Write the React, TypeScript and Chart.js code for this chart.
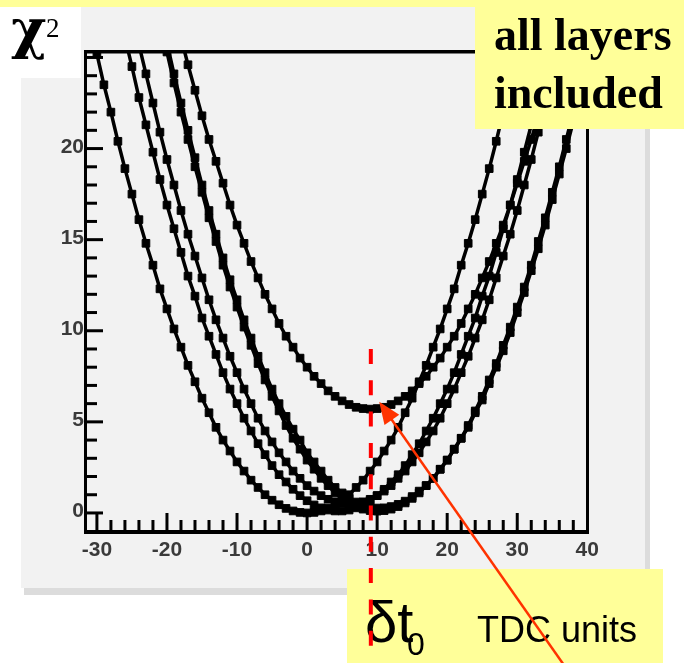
import React, { useEffect, useRef } from "react";
import { Chart, registerables } from "chart.js";

Chart.register(...registerables);

// Trial shift of t0, in TDC units
const tdcShift = [
  -32, -31, -30, -29, -28, -27, -26, -25, -24, -23,
  -22, -21, -20, -19, -18, -17, -16, -15, -14, -13,
  -12, -11, -10, -9, -8, -7, -6, -5, -4, -3,
  -2, -1, 0, 1, 2, 3, 4, 5, 6, 7,
  8, 9, 10, 11, 12, 13, 14, 15, 16, 17,
  18, 19, 20, 21, 22, 23, 24, 25, 26, 27,
  28, 29, 30, 31, 32, 33, 34, 35, 36, 37,
  38, 39, 40,
];

// chi-square of the track fit for each trial shift (one array per event)
const chi2EventA = [
  28.7, 26.9, 25.2, 23.5, 22.0, 20.4, 18.9, 17.5, 16.1, 14.8,
  13.6, 12.3, 11.2, 10.1, 9.1, 8.1, 7.2, 6.3, 5.5, 4.7,
  4.0, 3.4, 2.8, 2.3, 1.8, 1.4, 1.0, 0.7, 0.45, 0.25,
  0.11, 0.03, 0, 0.03, 0.11, 0.25, 0.45, 0.7, 1.0, 1.4,
  1.8, 2.3, 2.8, 3.4, 4.0, 4.7, 5.5, 6.3, 7.2, 8.1,
  9.1, 10.1, 11.2, 12.3, 13.6, 14.8, 16.1, 17.5, 18.9, 20.4,
  22.0, 23.5, 25.2, 26.9, 28.7, null, null, null, null, null,
  null, null, null,
];

const chi2EventB = [
  null, null, null, null, 29.7, 27.9, 26.1, 24.5, 22.8, 21.3,
  19.8, 18.3, 16.9, 15.6, 14.3, 13.0, 11.9, 10.7, 9.7, 8.7,
  7.7, 6.8, 6.0, 5.2, 4.5, 3.8, 3.2, 2.6, 2.1, 1.7,
  1.3, 0.95, 0.67, 0.44, 0.28, 0.16, 0.11, 0.11, 0.16, 0.28,
  0.44, 0.67, 0.95, 1.3, 1.7, 2.1, 2.6, 3.2, 3.8, 4.5,
  5.2, 6.0, 6.8, 7.7, 8.7, 9.7, 10.7, 11.9, 13.0, 14.3,
  15.6, 16.9, 18.3, 19.8, 21.3, 22.8, 24.5, 26.1, 27.9, 29.7,
  null, null, null,
];

const chi2EventC = [
  null, null, null, null, null, null, 29.2, 27.4, 25.7, 24.1,
  22.5, 20.9, 19.4, 18.0, 16.6, 15.3, 14.1, 12.9, 11.7, 10.6,
  9.6, 8.6, 7.7, 6.8, 6.0, 5.2, 4.5, 3.9, 3.3, 2.8,
  2.3, 1.9, 1.5, 1.2, 0.95, 0.75, 0.61, 0.53, 0.5, 0.53,
  0.61, 0.75, 0.95, 1.2, 1.5, 1.9, 2.3, 2.8, 3.3, 3.9,
  4.5, 5.2, 6.0, 6.8, 7.7, 8.6, 9.6, 10.6, 11.7, 12.9,
  14.1, 15.3, 16.6, 18.0, 19.4, 20.9, 22.5, 24.1, 25.7, 27.4,
  29.2, null, null,
];

const chi2EventD = [
  null, null, null, null, null, null, null, null, null, null,
  28.8, 27.0, 25.3, 23.6, 22.0, 20.5, 19.0, 17.6, 16.2, 14.9,
  13.6, 12.4, 11.3, 10.2, 9.2, 8.2, 7.3, 6.4, 5.6, 4.8,
  4.1, 3.5, 2.9, 2.4, 1.9, 1.5, 1.1, 0.8, 0.55, 0.35,
  0.21, 0.13, 0.1, 0.13, 0.21, 0.35, 0.55, 0.8, 1.1, 1.5,
  1.9, 2.4, 2.9, 3.5, 4.1, 4.8, 5.6, 6.4, 7.3, 8.2,
  9.2, 10.2, 11.3, 12.4, 13.6, 14.9, 16.2, 17.6, 19.0, 20.5,
  22.0, 23.6, 25.3,
];

const chi2EventE = [
  null, null, null, null, null, null, null, null, null, null,
  29.3, 27.5, 25.8, 24.1, 22.5, 21.0, 19.5, 18.0, 16.6, 15.3,
  14.0, 12.8, 11.7, 10.6, 9.6, 8.6, 7.7, 6.8, 6.0, 5.3,
  4.6, 4.0, 3.3, 2.8, 2.3, 1.8, 1.4, 1.1, 0.8, 0.6,
  0.43, 0.32, 0.27, 0.28, 0.35, 0.47, 0.65, 0.9, 1.2, 1.5,
  1.9, 2.4, 2.9, 3.5, 4.1, 4.7, 5.5, 6.2, 7.1, 8.0,
  8.9, 9.9, 11.0, 12.1, 13.3, 14.5, 15.8, 17.2, 18.6, 20.0,
  21.5, 23.1, 24.7,
];

const chi2EventF = [
  null, null, null, null, null, null, null, null, null, null,
  null, null, 29.3, 27.7, 26.1, 24.6, 23.2, 21.8, 20.5, 19.3,
  18.1, 16.9, 15.8, 14.8, 13.8, 12.9, 12.0, 11.2, 10.4, 9.7,
  9.1, 8.5, 8.0, 7.5, 7.1, 6.7, 6.4, 6.15, 5.95, 5.8,
  5.73, 5.7, 5.73, 5.8, 5.95, 6.15, 6.4, 6.7, 7.1, 7.5,
  8.0, 8.5, 9.1, 9.7, 10.4, 11.2, 12.0, 12.9, 13.8, 14.8,
  15.8, 16.9, 18.1, 19.3, 20.5, 21.8, 23.2, 24.6, 26.1, 27.7,
  29.3, null, null,
];

const eventSeries = [chi2EventA, chi2EventB, chi2EventC, chi2EventD, chi2EventE, chi2EventF];

const xTickValues = [-30, -20, -10, 0, 10, 20, 30, 40];
const yTickValues = [0, 5, 10, 15, 20];

// fitted t0 shift (red marker) and the minimum the arrow points to
const bestShift = 9.1;
const arrowTarget = { x: 10.3, y: 6.1 };

const YELLOW = "#ffff99";

const decorations = {
  id: "decorations",
  beforeDraw(chart: any) {
    const ctx = chart.ctx as CanvasRenderingContext2D;
    ctx.save();
    ctx.fillStyle = "#ffffff";
    ctx.fillRect(0, 0, chart.width, chart.height);
    // frame shadow
    ctx.fillStyle = "#dcdcdc";
    ctx.fillRect(24, 588, 626, 7);
    ctx.fillRect(645, 12, 5, 583);
    // canvas pad
    ctx.fillStyle = "#f2f2f2";
    ctx.fillRect(21, 7, 624, 581);
    // label cell for the y title
    ctx.fillStyle = "#ffffff";
    ctx.fillRect(0, 7, 81, 71);
    ctx.fillStyle = YELLOW;
    ctx.fillRect(0, 0, chart.width, 7);
    ctx.restore();
  },
  afterDatasetsDraw(chart: any) {
    const ctx = chart.ctx as CanvasRenderingContext2D;
    const xs = chart.scales.x;
    const ys = chart.scales.y;
    const { left, right, top, bottom } = chart.chartArea;
    ctx.save();
    ctx.fillStyle = "#000";
    // axis frame
    ctx.fillRect(left - 1, top - 2, right - left + 2, 3.5);
    ctx.fillRect(left - 1, bottom - 3, right - left + 2, 4);
    ctx.fillRect(left - 1, top - 2, 3, bottom - top + 3);
    ctx.fillRect(right - 2, top - 2, 3, bottom - top + 3);

    // y ticks, inward
    ctx.strokeStyle = "#000";
    ctx.lineWidth = 3;
    for (let v = 0; v <= 25; v++) {
      const y = ys.getPixelForValue(v);
      const len = v % 5 === 0 ? 18 : 12;
      ctx.beginPath();
      ctx.moveTo(left, y);
      ctx.lineTo(left + len, y);
      ctx.stroke();
    }
    // x ticks, inward
    for (let v = -30; v < 40; v += 2) {
      const x = xs.getPixelForValue(v);
      const len = v % 10 === 0 ? 18 : 11;
      ctx.beginPath();
      ctx.moveTo(x, bottom - 2);
      ctx.lineTo(x, bottom - 2 - len);
      ctx.stroke();
    }

    // tick labels
    ctx.fillStyle = "#3a3a3a";
    ctx.font = "bold 21px 'Liberation Sans', Arial, sans-serif";
    ctx.textAlign = "center";
    ctx.textBaseline = "alphabetic";
    for (const v of xTickValues) {
      ctx.fillText(String(v), xs.getPixelForValue(v), 556);
    }
    ctx.textAlign = "right";
    for (const v of yTickValues) {
      ctx.fillText(String(v), left - 1, ys.getPixelForValue(v) + 4);
    }
    ctx.restore();
  },
  afterDraw(chart: any) {
    const ctx = chart.ctx as CanvasRenderingContext2D;
    const xs = chart.scales.x;
    const ys = chart.scales.y;
    ctx.save();

    // y title
    ctx.fillStyle = "#000";
    ctx.textAlign = "left";
    ctx.textBaseline = "alphabetic";
    ctx.font = "bold 54px 'DejaVu Serif', serif";
    ctx.fillText("\u03c7", 11, 48);
    ctx.font = "27px 'Liberation Serif', 'Times New Roman', serif";
    ctx.fillText("2", 46, 37);

    // note box, top right
    ctx.fillStyle = YELLOW;
    ctx.fillRect(475, 0, 209, 129);
    ctx.fillStyle = "#000";
    ctx.font = "bold 46px 'Liberation Serif', 'Times New Roman', serif";
    ctx.fillText("all layers", 494, 50);
    ctx.fillText("included", 494, 108);

    // x title box
    ctx.fillStyle = YELLOW;
    ctx.fillRect(347, 569, 316, 94);
    ctx.fillStyle = "#000";
    ctx.font = "58px 'Liberation Sans', Arial, sans-serif";
    ctx.fillText("\u03b4t", 365, 642);
    ctx.font = "32px 'Liberation Sans', Arial, sans-serif";
    ctx.fillText("0", 407, 655);
    ctx.font = "36px 'Liberation Sans', Arial, sans-serif";
    ctx.fillText("TDC units", 477, 642);

    // dashed marker at the fitted shift
    const xm = xs.getPixelForValue(bestShift);
    ctx.strokeStyle = "#ff0000";
    ctx.lineWidth = 4;
    ctx.setLineDash([15, 16.3]);
    ctx.beginPath();
    ctx.moveTo(xm, ys.getPixelForValue(9));
    ctx.lineTo(xm, 648);
    ctx.stroke();
    ctx.setLineDash([]);

    // arrow to the minimum
    const tx = xs.getPixelForValue(arrowTarget.x);
    const ty = ys.getPixelForValue(arrowTarget.y);
    const ex = 566;
    const ey = 668;
    const len = Math.hypot(ex - tx, ey - ty);
    const ux = (ex - tx) / len;
    const uy = (ey - ty) / len;
    const headLen = 22;
    const headHalf = 9;
    const bx = tx + ux * headLen;
    const by = ty + uy * headLen;
    ctx.strokeStyle = "#ff3300";
    ctx.fillStyle = "#ff3300";
    ctx.lineWidth = 2.5;
    ctx.beginPath();
    ctx.moveTo(bx - ux * 2, by - uy * 2);
    ctx.lineTo(ex, ey);
    ctx.stroke();
    ctx.beginPath();
    ctx.moveTo(tx, ty);
    ctx.lineTo(bx - uy * headHalf, by + ux * headHalf);
    ctx.lineTo(bx + uy * headHalf, by - ux * headHalf);
    ctx.closePath();
    ctx.fill();

    ctx.restore();
  },
};

export default function App() {
  const canvasRef = useRef<HTMLCanvasElement>(null);

  useEffect(() => {
    document.body.style.margin = "0";
    const canvas = canvasRef.current;
    if (!canvas) return;
    const chart = new Chart(canvas, {
      type: "line",
      data: {
        datasets: eventSeries.map((values, k) => ({
          label: "event " + (k + 1),
          data: tdcShift.map((x, i) => ({ x, y: values[i] })),
          borderColor: "#000",
          backgroundColor: "#000",
          borderWidth: 3.5,
          pointStyle: "rect",
          pointRadius: 5.4,
          pointBorderWidth: 1,
          pointBackgroundColor: "#000",
          pointBorderColor: "#000",
          tension: 0,
          fill: false,
          spanGaps: false,
          clip: 0,
        })),
      },
      options: {
        responsive: false,
        animation: false,
        devicePixelRatio: 1,
        events: [],
        layout: { padding: { left: 85, right: 96, top: 52, bottom: 130 } },
        scales: {
          x: { type: "linear", min: -31.7, max: 40.1, display: false },
          y: { type: "linear", min: -1.1, max: 25.3, display: false },
        },
        plugins: {
          legend: { display: false },
          tooltip: { enabled: false },
        },
      },
      plugins: [decorations],
    } as any);
    return () => chart.destroy();
  }, []);

  return (
    <div style={{ position: "absolute", left: 0, top: 0, width: 684, height: 663 }}>
      <canvas
        ref={canvasRef}
        width={684}
        height={663}
        style={{ display: "block", width: 684, height: 663 }}
      />
    </div>
  );
}
